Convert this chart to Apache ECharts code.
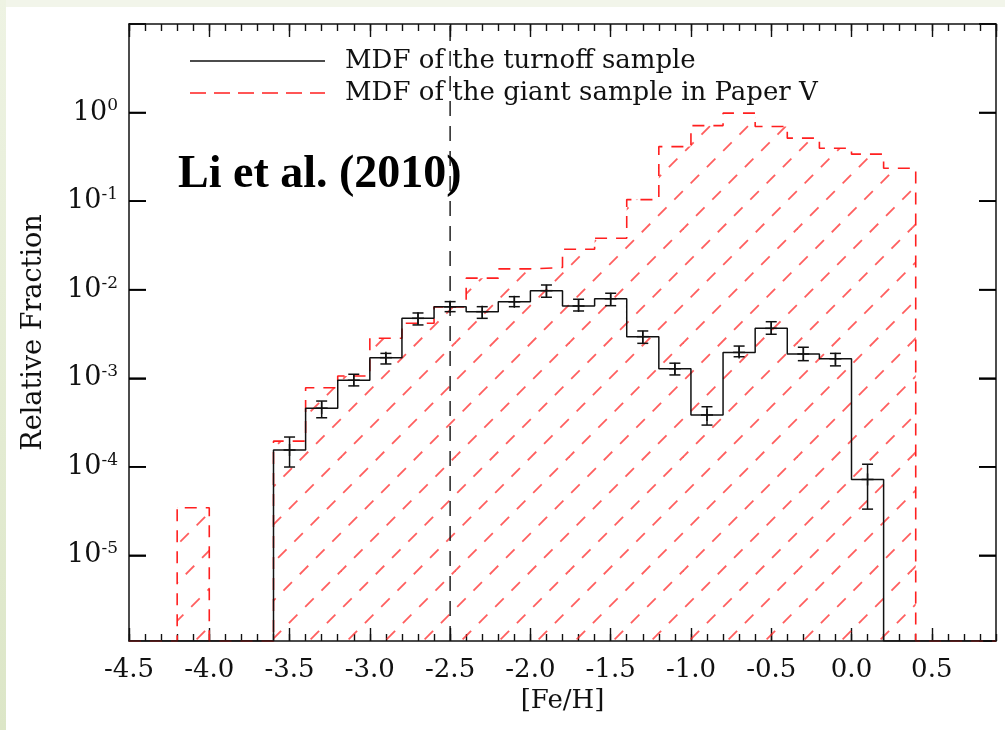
<!DOCTYPE html>
<html>
<head>
<meta charset="utf-8">
<script src="https://cdn.jsdelivr.net/npm/echarts@6/dist/echarts.min.js"></script>
<style>
  html, body { margin: 0; padding: 0; width: 1005px; height: 730px; overflow: hidden; background: #f2f5ea; }
  #strip { position: absolute; left: 0; top: 0; width: 6px; height: 730px; background: linear-gradient(#eef3e3, #dce6c7); }
  #page { position: absolute; left: 6px; top: 7px; right: 0; bottom: 0; background: #ffffff; }
  #chart { position: absolute; left: 0; top: 0; width: 1005px; height: 730px; }
</style>
</head>
<body>
<div id="strip"></div>
<div id="page"></div>
<div id="chart"></div>
<script>
// Metallicity distribution functions, bins of 0.2 dex in [Fe/H]
const BIN_WIDTH = 0.2;

// Turnoff sample: bin centres, relative fraction, error-bar bounds
const turnoffFeH = [-3.5, -3.3, -3.1, -2.9, -2.7, -2.5, -2.3, -2.1, -1.9, -1.7,
                    -1.5, -1.3, -1.1, -0.9, -0.7, -0.5, -0.3, -0.1, 0.1];
const turnoffFrac = [1.55e-4, 4.6e-4, 9.5e-4, 1.71e-3, 4.75e-3, 6.4e-3, 5.65e-3, 7.3e-3, 9.75e-3, 6.55e-3,
                     7.9e-3, 2.95e-3, 1.28e-3, 3.85e-4, 1.96e-3, 3.66e-3, 1.88e-3, 1.66e-3, 7.2e-5];
const turnoffErrLow = [9.95e-5, 3.58e-4, 8.2e-4, 1.45e-3, 4.0e-3, 5.65e-3, 4.75e-3, 6.43e-3, 8.22e-3, 5.75e-3,
                       6.6e-3, 2.48e-3, 1.09e-3, 2.96e-4, 1.75e-3, 3.14e-3, 1.58e-3, 1.38e-3, 3.33e-5];
const turnoffErrHigh = [2.17e-4, 5.53e-4, 1.11e-3, 1.91e-3, 5.46e-3, 7.33e-3, 6.43e-3, 8.34e-3, 1.13e-2, 7.8e-3,
                        9.12e-3, 3.42e-3, 1.48e-3, 4.77e-4, 2.31e-3, 4.35e-3, 2.24e-3, 1.91e-3, 1.07e-4];

// Giant sample (Paper V): bin centres and relative fraction
const giantFeH = [-4.1, -3.5, -3.3, -3.1, -2.9, -2.7, -2.5, -2.3, -2.1, -1.9, -1.7,
                  -1.5, -1.3, -1.1, -0.9, -0.7, -0.5, -0.3, -0.1, 0.1, 0.3];
const giantFrac = [3.45e-5, 1.95e-4, 7.8e-4, 1.06e-3, 2.83e-3, 4.18e-3, 6.4e-3, 1.35e-2, 1.72e-2, 1.78e-2, 2.86e-2,
                   3.81e-2, 0.104, 0.413, 0.713, 0.985, 0.695, 0.514, 0.396, 0.339, 0.235];

// Axis ranges, decade ticks and labelled decades
const X_MIN = -4.5, X_MAX = 0.9;
const Y_MIN = 1.08e-6, Y_MAX = 10;
const yTickDecades = [1, 1e-1, 1e-2, 1e-3, 1e-4, 1e-5];
const yLabelExponents = [0, -1, -2, -3, -4, -5];
const cutFeH = -2.5;

const legendNames = ['MDF of the turnoff sample', 'MDF of the giant sample in Paper V'];
const annotation = 'Li et al. (2010)';

const SERIF = '"DejaVu Serif", serif';
const INK = '#111';
const RED = '#ff1f1f';
const TICK_LEN = 17;

// Outline of a histogram as a step polyline, closed down to the axis floor
function stepOutline(centres, values) {
  const h = BIN_WIDTH / 2;
  const pts = [[X_MIN, Y_MIN]];
  let prevRight = null;
  centres.forEach((c, i) => {
    const l = +(c - h).toFixed(3), r = +(c + h).toFixed(3);
    if (prevRight !== null && l > prevRight + 1e-9) {
      pts.push([prevRight, Y_MIN]);
      pts.push([l, Y_MIN]);
    } else if (prevRight === null) {
      pts.push([l, Y_MIN]);
    }
    pts.push([l, values[i]]);
    pts.push([r, values[i]]);
    prevRight = r;
  });
  pts.push([prevRight, Y_MIN]);
  pts.push([X_MAX, Y_MIN]);
  return pts;
}

// Dashed diagonal hatching tile (seamless lattice of short dashes)
function hatchTile() {
  const S = 114, d = S / 3, q = 2 * S / 7, delta = (S - 3 * q) / 3, L = 12;
  const c = document.createElement('canvas');
  c.width = S; c.height = S;
  const g = c.getContext('2d');
  g.strokeStyle = 'rgba(255,40,40,0.75)';
  g.lineWidth = 1.8;
  const hh = L / 2 / Math.SQRT2;
  const centres = [];
  for (let k = -10; k <= 10; k++) {
    for (let m = -20; m <= 20; m++) {
      const u = k * d, v = m * q + k * delta;
      const cx = (u + v) / 2, cy = (u - v) / 2;
      if (cx >= 0 && cx < S && cy >= 0 && cy < S) centres.push([cx, cy]);
    }
  }
  centres.forEach(([cx, cy]) => {
    for (const ox of [-S, 0, S]) for (const oy of [-S, 0, S]) {
      g.beginPath();
      g.moveTo(cx + ox - hh, cy + oy + hh);
      g.lineTo(cx + ox + hh, cy + oy - hh);
      g.stroke();
    }
  });
  return c;
}

const errorData = turnoffFeH.map((x, i) => [x, turnoffFrac[i], turnoffErrLow[i], turnoffErrHigh[i]]);

// Error bar with caps, plus a "+" marker at the bin value
function renderErrorBar(params, api) {
  const x = api.value(0);
  const pV = api.coord([x, api.value(1)]);
  const pLo = api.coord([x, api.value(2)]);
  const pHi = api.coord([x, api.value(3)]);
  const cap = 5.5, arm = 6;
  const st = { stroke: INK, lineWidth: 1.5 };
  const seg = (x1, y1, x2, y2) => ({ type: 'line', shape: { x1, y1, x2, y2 }, style: st });
  return {
    type: 'group',
    children: [
      seg(pLo[0], pLo[1], pHi[0], pHi[1]),
      seg(pLo[0] - cap, pLo[1], pLo[0] + cap, pLo[1]),
      seg(pHi[0] - cap, pHi[1], pHi[0] + cap, pHi[1]),
      seg(pV[0], pV[1] - arm, pV[0], pV[1] + arm),
      seg(pV[0] - arm, pV[1], pV[0] + arm, pV[1])
    ]
  };
}

function xLabel(v) {
  if (Math.abs(v) < 1e-9) return '0.0';
  return v.toFixed(1);
}

function yLabel(v) {
  const e = Math.round(Math.log10(v));
  if (Math.abs(Math.log10(v) - e) > 1e-6 || yLabelExponents.indexOf(e) < 0) return '';
  return '{b|10}{s|' + e + '}';
}

const GRID = { left: 129, top: 24, width: 867, height: 617 };

function xAxisDef(position, major) {
  const labelled = major && position === 'bottom';
  return {
    type: 'value', position, min: X_MIN, max: X_MAX,
    interval: major ? 0.5 : 0.1,
    axisLine: { show: major, onZero: false, lineStyle: { color: INK, width: 1.5 } },
    axisTick: { show: true, inside: true, length: major ? 13 : 7, lineStyle: { color: INK, width: 1.4 } },
    axisLabel: {
      show: labelled, formatter: xLabel, margin: 16, showMaxLabel: false,
      fontFamily: SERIF, fontSize: 26, color: INK
    },
    splitLine: { show: false },
    name: labelled ? '[Fe/H]' : '',
    nameLocation: 'middle', nameGap: 46,
    nameTextStyle: { fontFamily: SERIF, fontSize: 26, color: INK }
  };
}

// Labelled left axis (line, inward decade ticks, labels and title)
const yLabelledAxis = {
  type: 'log', position: 'left', min: Y_MIN, max: Y_MAX,
  axisLine: { show: true, onZero: false, lineStyle: { color: INK, width: 1.5 } },
  axisTick: { show: true, inside: true, length: TICK_LEN, lineStyle: { color: '#000', width: 1.6 } },
  splitLine: { show: false },
  axisLabel: {
    show: true, formatter: yLabel, margin: 11, showMinLabel: false,
    rich: {
      b: { fontFamily: SERIF, fontSize: 27, lineHeight: 30, color: INK },
      s: { fontFamily: SERIF, fontSize: 17, lineHeight: 17, verticalAlign: 'top', color: INK }
    }
  },
  name: 'Relative Fraction',
  nameLocation: 'middle', nameGap: 82, nameRotate: 90,
  nameTextStyle: { fontFamily: SERIF, fontSize: 27, color: INK }
};

// Right frame edge with its inward decade ticks
const yRightAxis = {
  type: 'log', position: 'right', min: Y_MIN, max: Y_MAX,
  axisLine: { show: true, onZero: false, lineStyle: { color: INK, width: 1.5 } },
  axisTick: { show: true, inside: true, length: TICK_LEN, lineStyle: { color: '#000', width: 1.6 } },
  splitLine: { show: false },
  axisLabel: { show: false }
};

// Key: line samples followed by the series names
const KEY_X = 190, KEY_Y = [61, 93], KEY_LEN = 135, KEY_TEXT_GAP = 20;
const keyStyles = [
  { stroke: INK, lineWidth: 1.5 },
  { stroke: RED, lineWidth: 1.6, lineDash: [16, 8] }
];
const staticGraphics = [];
legendNames.forEach((name, i) => {
  staticGraphics.push({
    id: 'keyLine' + i, type: 'line', z: 10,
    shape: { x1: KEY_X, y1: KEY_Y[i], x2: KEY_X + KEY_LEN, y2: KEY_Y[i] },
    style: keyStyles[i]
  });
  staticGraphics.push({
    id: 'keyText' + i, type: 'text', z: 10, x: KEY_X + KEY_LEN + KEY_TEXT_GAP, y: KEY_Y[i],
    style: { text: name, fill: INK, font: '26px ' + SERIF, verticalAlign: 'middle' }
  });
});
staticGraphics.push({
  id: 'annotation', type: 'text', x: 178, y: 175, z: 10,
  style: {
    text: annotation, fill: '#000',
    font: 'bold 46px "Liberation Serif", "Times New Roman", serif',
    verticalAlign: 'middle'
  }
});

const chart = echarts.init(document.getElementById('chart'), null, { renderer: 'canvas' });

chart.setOption({
  animation: false,
  backgroundColor: 'transparent',
  grid: GRID,
  xAxis: [xAxisDef('bottom', true), xAxisDef('bottom', false), xAxisDef('top', true), xAxisDef('top', false)],
  yAxis: [yLabelledAxis, yRightAxis],
  graphic: staticGraphics,
  series: [
    {
      name: legendNames[1], type: 'line', xAxisIndex: 0, yAxisIndex: 0,
      data: stepOutline(giantFeH, giantFrac),
      symbol: 'none', showSymbol: false,
      lineStyle: { color: RED, width: 1.6, type: [12, 9] },
      itemStyle: { color: RED },
      areaStyle: { origin: 'start', color: { image: hatchTile(), repeat: 'repeat' }, opacity: 1 },
      z: 2
    },
    {
      name: legendNames[0], type: 'line', xAxisIndex: 0, yAxisIndex: 0,
      data: stepOutline(turnoffFeH, turnoffFrac),
      symbol: 'none', showSymbol: false,
      lineStyle: { color: INK, width: 1.5 },
      itemStyle: { color: INK },
      z: 3
    },
    {
      name: 'errors', type: 'custom', xAxisIndex: 0, yAxisIndex: 0,
      data: errorData, encode: { x: 0, y: 1 },
      renderItem: renderErrorBar, z: 4
    },
    {
      name: 'cut', type: 'line', xAxisIndex: 0, yAxisIndex: 0,
      data: [[cutFeH, Y_MIN], [cutFeH, Y_MAX]],
      symbol: 'none',
      lineStyle: { color: INK, width: 1.4, type: [15, 10] },
      z: 5
    }
  ]
});

// Decade ticks on both frame edges, placed through the chart's own log scale
const tickGraphics = [];
yTickDecades.forEach((v, i) => {
  const pL = chart.convertToPixel({ gridIndex: 0 }, [X_MIN, v]);
  const pR = chart.convertToPixel({ gridIndex: 0 }, [X_MAX, v]);
  const st = { stroke: '#000', lineWidth: 1.7 };
  tickGraphics.push({
    id: 'tickL' + i, type: 'line', z: 20,
    shape: { x1: pL[0], y1: pL[1], x2: pL[0] + TICK_LEN, y2: pL[1] }, style: st
  });
  tickGraphics.push({
    id: 'tickR' + i, type: 'line', z: 20,
    shape: { x1: pR[0] - TICK_LEN, y1: pR[1], x2: pR[0], y2: pR[1] }, style: st
  });
});
chart.setOption({ graphic: staticGraphics.concat(tickGraphics) });
</script>
</body>
</html>
